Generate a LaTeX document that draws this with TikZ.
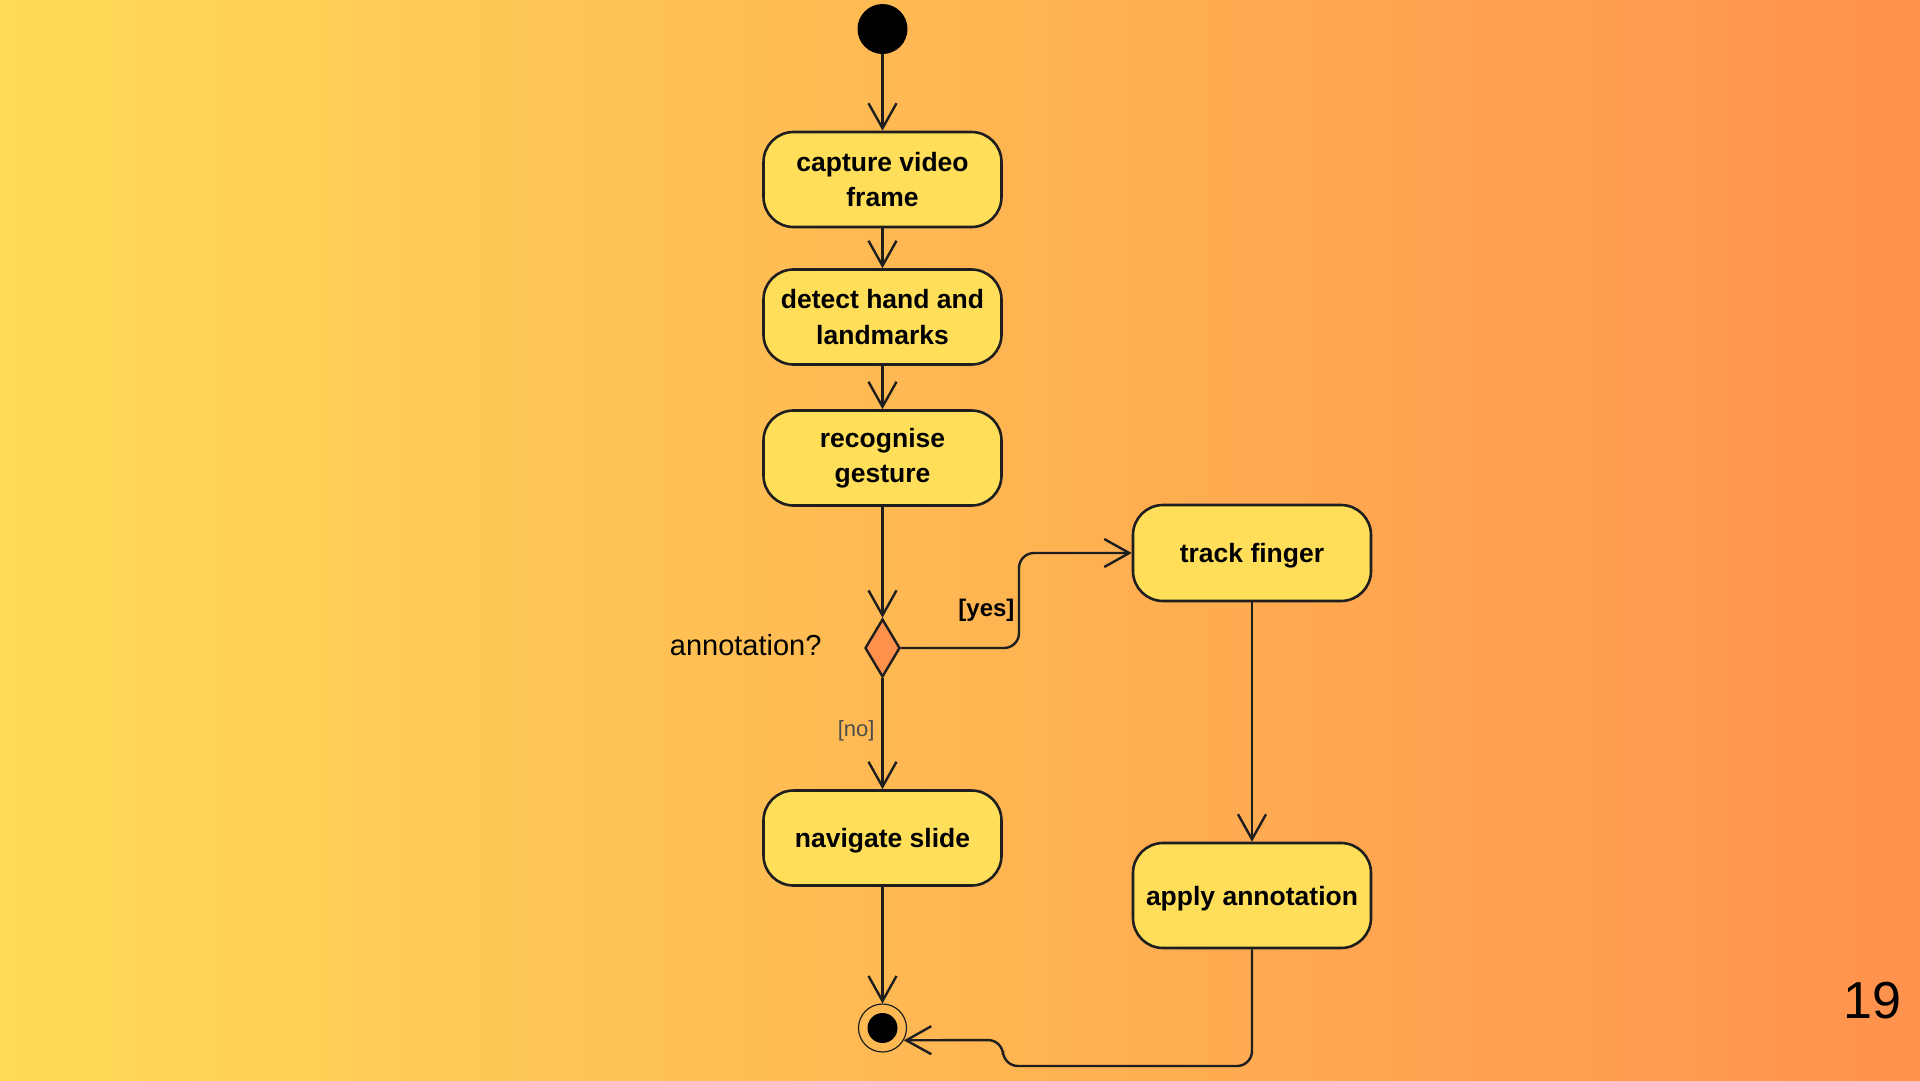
\documentclass[tikz,border=0pt]{standalone}
\usepackage{fontspec}
\setmainfont{Liberation Sans}
\usetikzlibrary{arrows.meta,shapes.geometric}

\definecolor{bgleft}{RGB}{255,219,88}
\definecolor{bgright}{RGB}{255,145,77}
\definecolor{boxfill}{RGB}{255,222,89}
\definecolor{decfill}{RGB}{255,145,77}
\definecolor{edge}{RGB}{30,30,30}

\tikzset{
  actbox/.style={draw=edge, line width=2.6pt, fill=boxfill, rounded corners=30pt,
    minimum width=238pt, minimum height=95pt, align=center, inner sep=0pt,
    font=\bfseries\fontsize{26.5}{35.5}\selectfont},
  oneline/.style={text depth=0pt},
  flow/.style={draw=edge, line width=2.4pt, -{Straight Barb[length=25pt,width=28pt,line width=2.4pt]}}
}

\begin{document}
\begin{tikzpicture}[x=1pt,y=-1pt]
				% Nền
				\shade[left color=bgleft, right color=bgright] (0,0) rectangle (1920,1080);
				\useasboundingbox (0,0) rectangle (1920,1080);
				
				% Các nút
				\node[circle, fill=black, minimum size=50pt, inner sep=0pt] (start) at (882.5,29) {};
				\node[actbox] (capture) at (882.5,179.5) {capture video\\frame};
				\node[actbox] (detect) at (882.5,317) {detect hand and\\landmarks};
				\node[actbox] (recog) at (882.5,458) {recognise\\gesture};
				\node[diamond, draw=edge, line width=2.4pt, fill=decfill, minimum width=35pt, minimum height=58pt, inner sep=0pt] (dec) at (882.5,648) {};
				\node[actbox, oneline] (navigate) at (882.5,838) {navigate slide};
				\node[actbox, oneline, minimum height=96pt] (track) at (1252,553) {track finger};
				\node[actbox, oneline, minimum height=105pt] (apply) at (1252,895.5) {apply annotation};
				\node[circle, draw=edge, line width=1.2pt, minimum size=48pt, inner sep=0pt] (stop) at (882.5,1028) {};
				\fill[black] (stop) circle (15pt);
				
				% Nhãn
				\node[anchor=east, font=\fontsize{29}{34}\selectfont] (ask) at (825,645) {annotation?};
				\node[anchor=east, font=\bfseries\fontsize{24}{28}\selectfont] (yes) at (1018,610) {[yes]};
				\node[anchor=east, text=black!70, font=\fontsize{22}{26}\selectfont] (no) at (878,731) {[no]};
				\node[font=\fontsize{52}{60}\selectfont] (page) at (1872,1001) {19};
				
				% Các mũi tên
				\draw[flow] (start) -- (capture);
				\draw[flow] (capture) -- (detect);
				\draw[flow] (detect) -- (recog);
				\draw[flow] (recog) -- (dec.north);
				\draw[flow] (dec.south) -- (navigate);
				\draw[flow] (navigate) -- (stop.north);
				\draw[flow, rounded corners=15pt] (dec.east) -- (1019,648) -- (1019,553) -- (track.west);
				\draw[flow] (track) -- (apply);
				\draw[flow, rounded corners=15pt] (apply.south) -- (1252,1066) -- (1003,1066) -- (1003,1040) -- (stop.-30);
			\end{tikzpicture}
\end{document}
